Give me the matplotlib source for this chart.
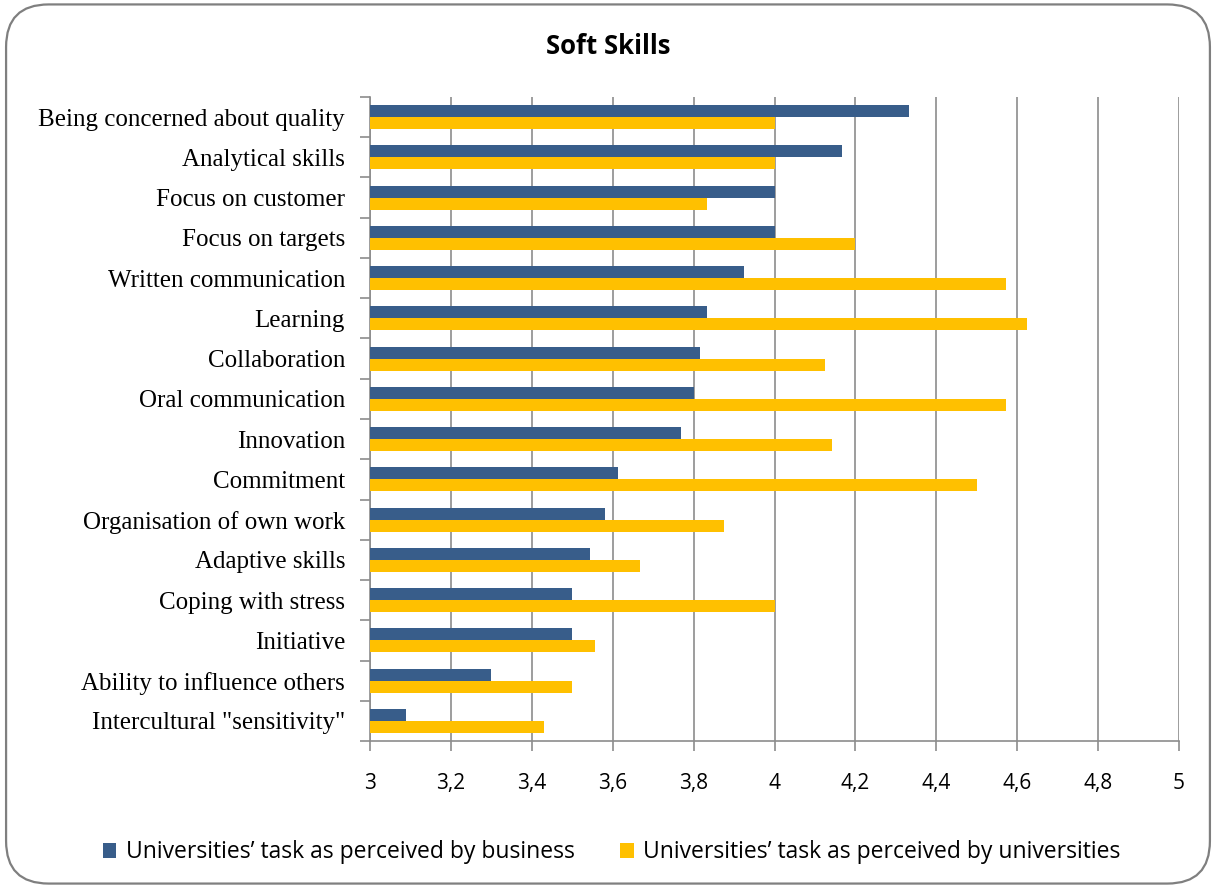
import matplotlib
matplotlib.use("Agg")
import matplotlib.pyplot as plt
import numpy as np
from matplotlib.patches import FancyBboxPatch, Patch
from matplotlib.ticker import FuncFormatter, FixedLocator

skills = [
    "Being concerned about quality",
    "Analytical skills",
    "Focus on customer",
    "Focus on targets",
    "Written communication",
    "Learning",
    "Collaboration",
    "Oral communication",
    "Innovation",
    "Commitment",
    "Organisation of own work",
    "Adaptive skills",
    "Coping with stress",
    "Initiative",
    "Ability to influence others",
    "Intercultural \"sensitivity\"",
]
business = [4.333, 4.167, 4.0, 4.0, 3.925, 3.833, 3.816, 3.8, 3.769,
            3.613, 3.581, 3.544, 3.5, 3.5, 3.3, 3.09]
universities = [4.0, 4.0, 3.833, 4.2, 4.571, 4.625, 4.125, 4.571, 4.143,
                4.5, 3.875, 3.667, 4.0, 3.556, 3.5, 3.429]
x_ticks = [3, 3.2, 3.4, 3.6, 3.8, 4, 4.2, 4.4, 4.6, 4.8, 5]

series_names = ["Universities\u2019 task as perceived by business",
                "Universities\u2019 task as perceived by universities"]
blue = "#385D8A"
gold = "#FFC000"
grid_grey = "#8C8C8C"

fig = plt.figure(figsize=(12.16, 8.88), dpi=100)

# rounded chart-area frame, kept behind everything else
frame = FancyBboxPatch((0.005, 0.005), 0.99, 0.99,
                       boxstyle="round,pad=0,rounding_size=0.035",
                       transform=fig.transFigure, facecolor="white",
                       edgecolor="#7F7F7F", linewidth=1.6, zorder=-10,
                       mutation_aspect=1216 / 888)
fig.patches.append(frame)

ax = fig.add_axes([0.3043, 0.1655, 0.6653, 0.7253])
ax.set_zorder(5)
ax.set_facecolor("none")

n = len(skills)
y = np.arange(n)
h = 0.3
base = 3.0
ax.barh(y - h / 2, np.array(business) - base, left=base, height=h,
        color=blue, zorder=3)
ax.barh(y + h / 2, np.array(universities) - base, left=base, height=h,
        color=gold, zorder=3)

ax.set_ylim(n - 0.5, -0.5)
ax.set_xlim(3, 5)

ax.xaxis.set_major_locator(FixedLocator(x_ticks))
ax.xaxis.set_major_formatter(FuncFormatter(
    lambda v, p: (f"{v:.1f}".rstrip("0").rstrip(".")).replace(".", ",")))
ax.grid(axis="x", color=grid_grey, linewidth=1.2, zorder=1)

ax.set_yticks(y)
ax.set_yticklabels(skills, fontfamily="Liberation Serif", fontsize=18)
ax.tick_params(axis="y", which="major", length=0, pad=18)
ax.set_yticks(np.arange(-0.5, n, 1), minor=True)
ax.tick_params(axis="y", which="minor", length=7, color=grid_grey, width=1.2,
               direction="out")
ax.tick_params(axis="x", which="major", length=7, color=grid_grey, width=1.2,
               direction="out", labelsize=15, pad=16)
for lbl in ax.get_xticklabels():
    lbl.set_fontfamily("Open Sans")

for s in ["top", "right"]:
    ax.spines[s].set_visible(False)
for s in ["left", "bottom"]:
    ax.spines[s].set_color(grid_grey)
    ax.spines[s].set_linewidth(1.2)

fig.text(0.5, 0.948, "Soft Skills", ha="center", va="center",
         fontsize=18.5, fontweight="bold", fontfamily="Open Sans")

handles = [Patch(facecolor=blue), Patch(facecolor=gold)]
fig.legend(handles, series_names, loc="center", bbox_to_anchor=(0.503, 0.04),
           ncol=2, frameon=False, prop={"family": "Open Sans", "size": 16.5},
           handlelength=0.6, handleheight=0.6, handletextpad=0.4,
           columnspacing=2.0)

fig.savefig("out.png", dpi=100)
